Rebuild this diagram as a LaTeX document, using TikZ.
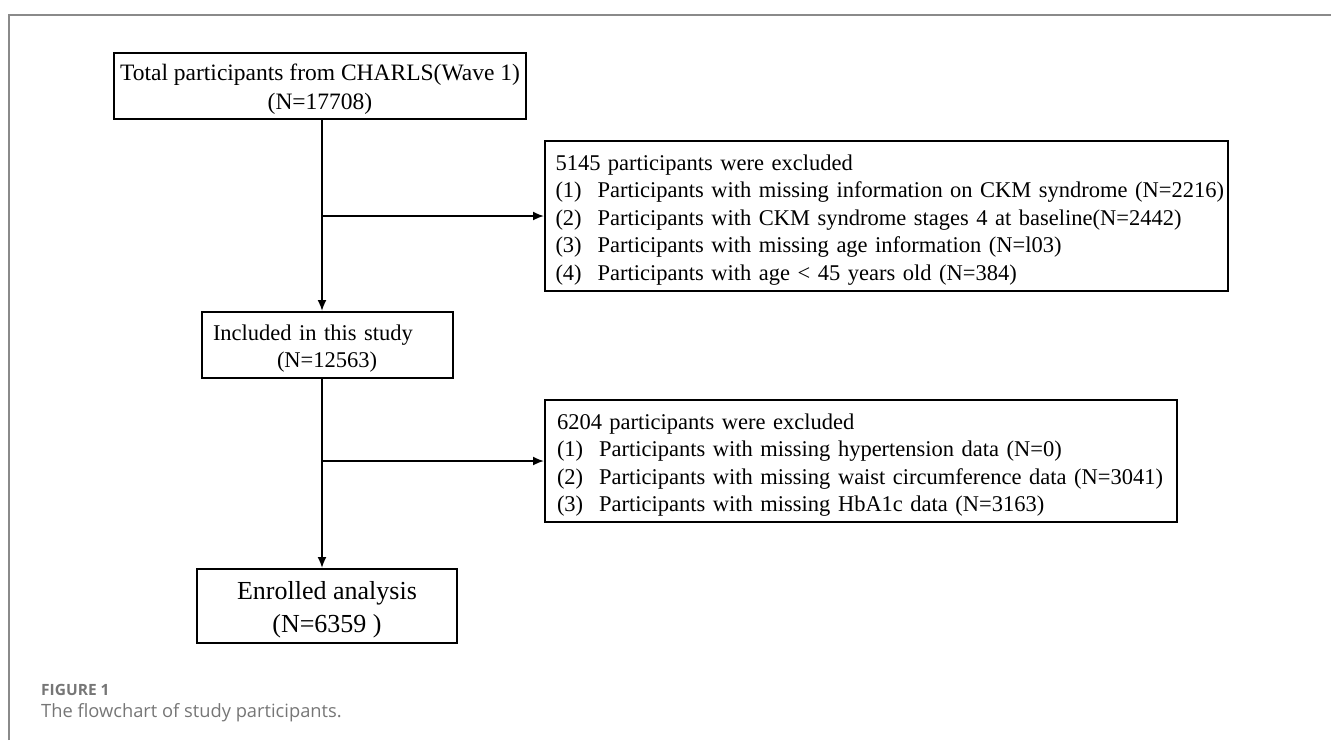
\documentclass[tikz,border=0pt]{standalone}
\usepackage{fontspec}
\setmainfont{Liberation Serif}
\newfontfamily\captionfont{Open Sans}
\usetikzlibrary{arrows,shapes,positioning}
\usetikzlibrary{arrows.meta}
\definecolor{framegray}{HTML}{8A8A8A}
\definecolor{captiongray}{HTML}{767676}
\newcommand{\itemgap}{\hspace{16pt}}
\tikzstyle{flowbox}=[draw, line width=2pt, inner sep=0pt, align=center, font=\fontsize{23.5}{29}\selectfont]
\tikzstyle{listbox}=[draw, line width=2pt, inner xsep=10.5pt, inner ysep=0pt, align=left, font=\fontsize{22.5}{27.5}\selectfont]
\tikzstyle{flowLine}=[line width=1.8pt, -{Latex[length=11pt,width=9pt]}]
\tikzstyle{captiontext}=[inner sep=0pt, anchor=west, text=captiongray]

\begin{document}
\begin{tikzpicture}[x=1pt, y=-1pt]
    \useasboundingbox (0,0) rectangle (1331,740);
    % frame
    \draw[framegray, line width=1.5pt] (9,740) -- (9,15) -- (1331,15);

    % boxes
    \node[flowbox, minimum width=412pt, minimum height=66pt] (total) at (320,86) {Total participants from CHARLS(Wave 1)\\(N=17708)\vspace{-7pt}};
    \node[listbox, text width=662pt, minimum height=150pt] (excl1) at (886.5,216) {5145 participants were excluded\\
        \mbox{(1)\itemgap Participants with missing information on CKM syndrome (N=2216)}\\
        (2)\itemgap Participants with CKM syndrome stages 4 at baseline(N=2442)\\
        (3)\itemgap Participants with missing age information (N=l03)\\
        (4)\itemgap Participants with age < 45 years old (N=384)\vspace{-8pt}};
    \node[listbox, text width=229pt, inner xsep=11pt, minimum height=66pt, font=\fontsize{22.5}{27}\selectfont] (incl) at (327.5,345) {Included in this study\\\hspace*{64pt}(N=12563)\vspace{-8pt}};
    \node[listbox, text width=608pt, inner xsep=12pt, minimum height=122pt] (excl2) at (861,461) {6204 participants were excluded\\
        (1)\itemgap Participants with missing hypertension data (N=0)\\
        (2)\itemgap Participants with missing waist circumference data (N=3041)\\
        (3)\itemgap Participants with missing HbA1c data (N=3163)\vspace{-8pt}};
    \node[flowbox, minimum width=260pt, minimum height=74pt, font=\fontsize{26}{33}\selectfont] (final) at (327,606) {Enrolled analysis\\(N=6359 )\vspace{-8pt}};

    % junctions
    \coordinate (j1) at (322,216);
    \coordinate (j2) at (322,461);

    % arrows
    \draw[flowLine] (total.south -| j1) -- (incl.north -| j1);
    \draw[flowLine] (j1) -- (excl1.west |- j1);
    \draw[flowLine] (incl.south -| j2) -- (final.north -| j2);
    \draw[flowLine] (j2) -- (excl2.west |- j2);

    % caption
    \node[captiontext, font=\captionfont\bfseries\fontsize{15.5}{18}\selectfont] (fignum) at (41,690) {FIGURE 1};
    \node[captiontext, font=\captionfont\fontsize{18.3}{20}\selectfont] (figcap) at (41,713) {The flowchart of study participants.};
\end{tikzpicture}
\end{document}
